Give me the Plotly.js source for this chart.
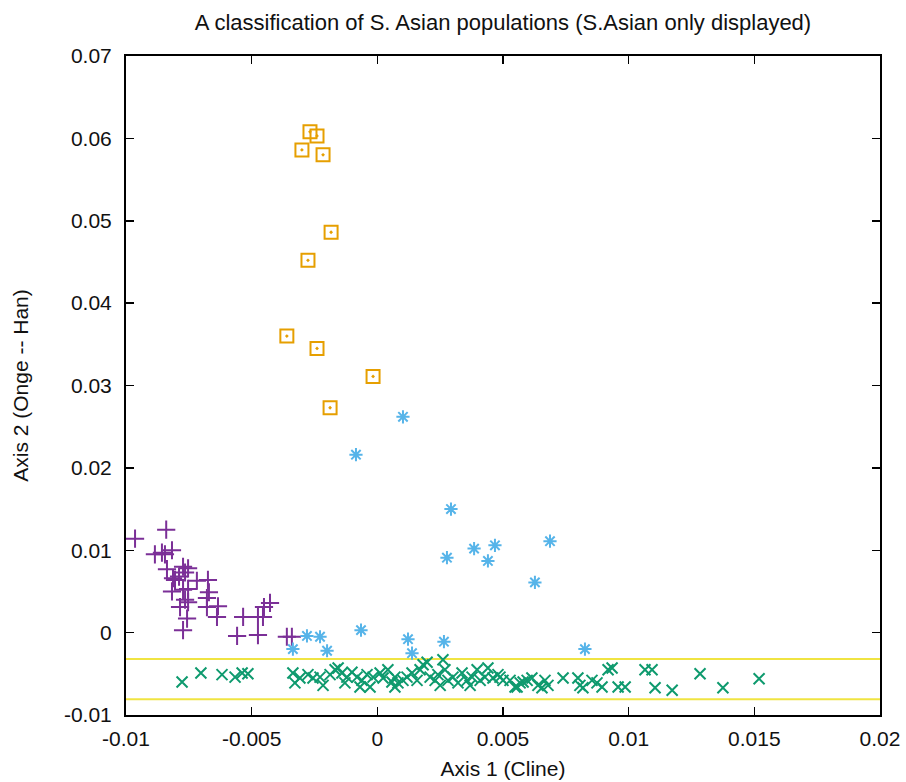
<!DOCTYPE html>
<html><head><meta charset="utf-8">
<script src="https://cdn.plot.ly/plotly-3.0.1.min.js"></script>
<style>html,body{margin:0;padding:0;background:#fff}#chart{width:906px;height:782px}</style>
</head><body><div id="chart"></div>
<script>
// Orange squares
const orangeX = [-0.00268, -0.0024, -0.0030, -0.00216, -0.00184, -0.00276, -0.0036, -0.0024, -0.00017, -0.00188];
const orangeY = [0.0608, 0.0603, 0.0586, 0.0580, 0.0486, 0.0452, 0.0360, 0.0345, 0.0311, 0.0273];
// Blue asterisks
const blueX = [0.00102, -0.00085, 0.00293, 0.00687, 0.00468, 0.00385, 0.00277, 0.0044, 0.00627, -0.00065, -0.0028, -0.00228, -0.00336, -0.0020, 0.00122, 0.00138, 0.00265, 0.00826];
const blueY = [0.0262, 0.0216, 0.0150, 0.0111, 0.0106, 0.0102, 0.0091, 0.0087, 0.0061, 0.0003, -0.0004, -0.0005, -0.0020, -0.0022, -0.0008, -0.0025, -0.0011, -0.0020];
// Purple plus signs
const purpleX = [-0.00964, -0.0084, -0.00885, -0.00857, -0.00817, -0.00845, -0.00837, -0.00773, -0.00753, -0.00813, -0.00805, -0.00789, -0.00765, -0.00718, -0.00674, -0.00817, -0.00773, -0.00753, -0.0067, -0.00765, -0.00753, -0.00678, -0.00678, -0.00785, -0.00634, -0.00638, -0.00757, -0.00773, -0.00558, -0.00534, -0.00475, -0.00475, -0.00455, -0.00451, -0.00427, -0.0036, -0.0034];
const purpleY = [0.0114, 0.0125, 0.0095, 0.0097, 0.0100, 0.0095, 0.0077, 0.0080, 0.0078, 0.0066, 0.0064, 0.0068, 0.0073, 0.0063, 0.0064, 0.0050, 0.0052, 0.0053, 0.0049, 0.0040, 0.0037, 0.0042, 0.0031, 0.0031, 0.0032, 0.0019, 0.0017, 0.0003, -0.0004, 0.0019, -0.0003, 0.0019, 0.0019, 0.0031, 0.0036, -0.0005, -0.0005];
// Green crosses
const greenX = [-0.00777, -0.00702, -0.00618, -0.00566, -0.00538, -0.00515, -0.00336, -0.00328, -0.00308, -0.00276, -0.00256, -0.00228, -0.00216, -0.00188, -0.00168, -0.00156, -0.00141, -0.00129, -0.00121, -0.00101, -0.00081, -0.00069, -0.00061, -0.00041, -0.00029, -0.00017, 0.00011, 0.00023, 0.00042, 0.00058, 0.0007, 0.0007, 0.00082, 0.00102, 0.00118, 0.00138, 0.00158, 0.0017, 0.00182, 0.00198, 0.0021, 0.0023, 0.00241, 0.0025, 0.00261, 0.00269, 0.00281, 0.00301, 0.00321, 0.00337, 0.00357, 0.00369, 0.00377, 0.00397, 0.00409, 0.00428, 0.0044, 0.0046, 0.0048, 0.00488, 0.005, 0.00528, 0.00548, 0.00556, 0.00568, 0.0058, 0.00596, 0.00615, 0.00639, 0.00655, 0.00667, 0.00679, 0.00739, 0.00798, 0.00806, 0.00818, 0.00854, 0.00874, 0.00894, 0.00918, 0.00934, 0.00958, 0.00986, 0.01065, 0.01093, 0.01105, 0.01173, 0.01284, 0.01375, 0.01519];
const greenY = [-0.0060, -0.0049, -0.0051, -0.0054, -0.0049, -0.0050, -0.0049, -0.0061, -0.0055, -0.0051, -0.0055, -0.0054, -0.0064, -0.0051, -0.0045, -0.0043, -0.0049, -0.0061, -0.0054, -0.0048, -0.0054, -0.0066, -0.0058, -0.0051, -0.0066, -0.0054, -0.0049, -0.0055, -0.0045, -0.0060, -0.0054, -0.0066, -0.0061, -0.0058, -0.0054, -0.0049, -0.0058, -0.0045, -0.0039, -0.0036, -0.0054, -0.0058, -0.0051, -0.0064, -0.0033, -0.0045, -0.0058, -0.0054, -0.0061, -0.0049, -0.0058, -0.0064, -0.0054, -0.0045, -0.0058, -0.0054, -0.0043, -0.0055, -0.0051, -0.0054, -0.0058, -0.0058, -0.0066, -0.0066, -0.0061, -0.0060, -0.0058, -0.0055, -0.0064, -0.0067, -0.0058, -0.0064, -0.0055, -0.0055, -0.0064, -0.0067, -0.0058, -0.0061, -0.0066, -0.0045, -0.0043, -0.0066, -0.0066, -0.0045, -0.0045, -0.0067, -0.0070, -0.0050, -0.0067, -0.0056];
// Yellow band boundaries
const bandX = [-0.01, 0.02];
const bandUpper = [-0.0032, -0.0032];
const bandLower = [-0.0081, -0.0081];
const xTicks = [-0.01, -0.005, 0, 0.005, 0.01, 0.015, 0.02];
const xTickText = ["-0.01", "-0.005", "0", "0.005", "0.01", "0.015", "0.02"];
const yTicks = [-0.01, 0, 0.01, 0.02, 0.03, 0.04, 0.05, 0.06, 0.07];
const yTickText = ["-0.01", "0", "0.01", "0.02", "0.03", "0.04", "0.05", "0.06", "0.07"];

const FONT = 'Liberation Sans, Arial, sans-serif';
const traces = [
  {x: bandX, y: bandUpper, mode: 'lines', line: {color: '#f0e442', width: 2}, hoverinfo: 'skip'},
  {x: bandX, y: bandLower, mode: 'lines', line: {color: '#f0e442', width: 2}, hoverinfo: 'skip'},
  {x: greenX, y: greenY, mode: 'markers', marker: {symbol: 'x-thin-open', size: 11, color: '#0e9a6e', line: {color: '#0e9a6e', width: 2}}},
  {x: purpleX, y: purpleY, mode: 'markers', marker: {symbol: 'cross-thin-open', size: 13, color: '#7b2f97', line: {color: '#7b2f97', width: 2}}},
  {x: blueX, y: blueY, mode: 'markers', marker: {symbol: 'asterisk-open', size: 11, color: '#56b4e9', line: {color: '#56b4e9', width: 2}}},
  {x: orangeX, y: orangeY, mode: 'markers', marker: {symbol: 'square-open-dot', size: 13, color: '#e69f00', line: {color: '#e69f00', width: 2}}}
];

const axisCommon = {
  showgrid: false, zeroline: false, showline: true, mirror: 'ticks',
  linecolor: '#000', linewidth: 2, ticks: 'inside', ticklen: 8, tickwidth: 1.5, tickcolor: '#000',
  tickfont: {family: FONT, size: 21, color: '#111'},
  tickmode: 'array'
};

const layout = {
  width: 906, height: 782,
  margin: {l: 126, r: 26, t: 56, b: 67},
  paper_bgcolor: '#fff', plot_bgcolor: '#fff',
  showlegend: false,
  title: {text: 'A classification of S. Asian populations (S.Asian only displayed)', xref: 'paper', x: 0.5, xanchor: 'center', y: 0.971, yanchor: 'middle',
          font: {family: FONT, size: 22, color: '#111'}},
  xaxis: Object.assign({}, axisCommon, {range: [-0.01, 0.02], tickvals: xTicks, ticktext: xTickText, ticklabelstandoff: 4,
          title: {text: 'Axis 1 (Cline)', standoff: 12, font: {family: FONT, size: 21, color: '#111'}}}),
  yaxis: Object.assign({}, axisCommon, {range: [-0.01, 0.07], tickvals: yTicks, ticktext: yTickText, ticklabelstandoff: 8,
          title: {text: 'Axis 2 (Onge -- Han)', standoff: 30, font: {family: FONT, size: 21, color: '#111'}}})
};

Plotly.newPlot('chart', traces, layout, {displayModeBar: false, staticPlot: true});
</script></body></html>
